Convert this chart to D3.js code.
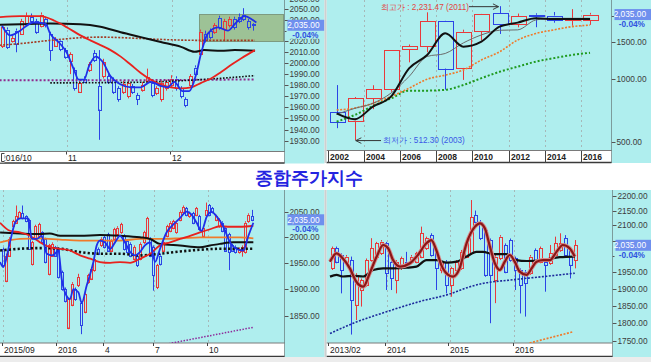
<!DOCTYPE html>
<html><head><meta charset="utf-8">
<script src="https://cdn.jsdelivr.net/npm/d3@7"></script>
<style>
body{margin:0;background:#fff;}
svg{display:block;}
text{font-family:"Liberation Sans",Arial,sans-serif;}
</style></head>
<body><svg id="c" width="651" height="362"></svg>
<script>
// ================= DATA =================
// Daily (2016/10 - 2016/12)
const dailyO = [2016,2031,2020,2030,2027,2036,2043,2039,2034,2041,2027,2016,2020,2012,2002,1994,1974,1986,1994,2009,1979,1988,1988,1985,1977,1974,1970,1979,1971,1976,1984,1982,1973,1967,1977,1980,1986,1977,1967,1980,1996,2008,2027,2030,2029,2042,2032,2035,2041,2043,2045,2039,2036];
const dailyH = [2036,2033,2025,2032,2041,2047,2046,2041,2047,2043,2029,2024,2021,2014,2010,1996,1984,1988,2001,2012,2012,2004,1990,1987,1979,1984,1984,1981,1973,1983,1995,1985,1979,1984,1985,1989,1988,1979,1969,1990,1998,2031,2030,2032,2037,2044,2041,2043,2043,2046,2051,2041,2037];
const dailyL = [2014,2013,2019,2010,2026,2035,2037,2027,2033,2033,2002,2015,2011,2004,1990,1975,1973,1982,1992,2001,1931,1986,1981,1972,1965,1972,1968,1972,1962,1974,1981,1969,1971,1965,1975,1978,1975,1968,1960,1978,1988,2006,2019,2022,2027,2031,2021,2033,2031,2037,2039,2031,2030];
const dailyC = [2033,2015,2023,2018,2039,2044,2039,2029,2045,2035,2012,2022,2013,2006,2008,1977,1982,1983,1999,2003,1958,2001,1983,1974,1967,1981,1982,1974,1967,1980,1987,1971,1977,1982,1983,1986,1977,1970,1962,1988,1990,2029,2021,2024,2035,2033,2039,2041,2033,2039,2041,2033,2035];
const dailyMA5 = [[0,2034.6],[1.7,2025.6],[2.7,2027],[3.75,2030],[6.5,2037.6],[9,2036.6],[10,2027],[11.7,2019.5],[13.5,2009],[14.9,1994],[15.9,1985],[17,1985],[18,1997],[19.4,2006],[20.8,2001.5],[22.5,1988],[24.6,1980.5],[26.7,1978],[28.75,1978],[30.8,1983],[33,1979],[34.3,1978],[35.7,1983],[37.4,1974.5],[38.8,1974.5],[40.2,1989.5],[41.25,2009],[42.6,2027],[44.7,2033],[46.8,2030],[48.2,2036],[50.3,2043.6],[51.7,2040.6],[52.7,2037.6]];
const dailyMA20 = [[-0.5,2042.6],[3.75,2043.6],[7.9,2043.6],[11,2039],[13.5,2033],[16.25,2025.6],[18.3,2021],[20.4,2016.6],[22.5,2012],[24.6,2006],[26.7,1998.5],[28.75,1991],[30.8,1985],[32.9,1980.5],[35,1978],[37.1,1977],[39.2,1978],[41.25,1982],[43.3,1986],[45.4,1992],[47.5,1998.5],[49.6,2004.5],[52.4,2012]];
const dailyMA60 = [[-0.5,2035.5],[3.75,2036],[10,2036.6],[16.25,2036],[20.4,2033.6],[24.6,2028.5],[28.75,2024],[32.9,2019.5],[37.1,2015],[39.9,2010.5],[41.9,2012],[45.4,2011.4],[48.2,2012],[52.4,2011.4]];
const dailyMA120 = [[-0.5,2016.5],[3.75,2018],[10,2021],[16.25,2023.4],[20.4,2024],[27.4,2023],[34.3,2021.6],[41.25,2021],[52.4,2021]];
const dailyMA240 = [[-0.5,1984.4],[20,1984.4],[41,1984.8],[52.4,1985.2]];
const dailyMA480 = [[10,1982],[27.4,1982.5],[41.25,1985],[52.4,1988.6]];
const dailyBoxStart = 40.8;
const dailyBoxRange = [2020.7, 2045.6];
const dailyYTicks = [2060,2050,2040,2030,2020,2010,2000,1990,1980,1970,1960,1950,1940,1930];
const dailyXLabels = ["2016/10","11","12"];
const dailyXLabelIdx = [-0.35,13.5,35.2];

// Yearly (2002 - 2016)
const yearCats = [2002,2003,2004,2005,2006,2007,2008,2009,2010,2011,2012,2013,2014,2015,2016];
const yearO = [693.7,635,811,895.9,1389,1438,1897,1132,1696,2063,1826,2031,2013,1926,1918];
const yearH = [937.6,822.2,936.1,1379.4,1464.7,2085.5,1901,1723.2,2053,2231.47,2057.3,2063.3,2093,2160,2073];
const yearL = [584,512.3,719.6,870.8,1203.9,1345.1,892.2,992.7,1532.7,1644.1,1769,1770.5,1861,1800,1817];
const yearC = [627.6,810.7,895.9,1379.4,1434.5,1897.1,1124.5,1682.8,2051,1825.7,1997.1,2011.3,1915.6,1961.3,2035];
const yearMA3 = [687,644,740,826,1127,1305,1656,1430,1511,1782,1862,1953,1938,1938,1938];
const yearMA5 = [680,726,767,858,1030,1284,1327,1490,1627,1712,1720,1917,1953,1953,1953];
const yearMA10 = [713,728,767,826,906,1000,1046,1107,1236,1352,1538,1652,1720,1782,1813];
const yearMA20 = [627,675,745,809,882,882,890,938,1012,1085,1148,1213,1261,1305,1337];
const yearYTicks = [500,1000,1500,2000];
const yearXLabels = ["2002","2004","2006","2008","2010","2012","2014","2016"];
const yearHighText = "최고가 : 2,231.47 (2011)";
const yearLowText = "최저가 : 512.30 (2003)";

// Weekly (2015/09 - 2016/12)
const weekO = [1977,1916,1964,2022,2029,2038,2048,2042,2035,1948,1997,2003,2010,1997,1929,1964,1981,1977,1932,1900,1829,1871,1900,1907,1874,1858,1913,1920,1936,1977,1984,2000,2006,1974,1997,2006,2010,2003,1993,1987,1958,1964,1958,1990,2000,1997,1981,1903,1964,1974,2003,2013,2019,2010,2035,2051,2058,2042,2048,2045,2042,2003,2045,2064,2058,2035,2022,2029,2019,2006,1984,1981,1971,1974,1971,2032,2042];
const weekH = [1980,1968,2000,2035,2064,2053,2064,2044,2037,1993,2025,2029,2012,1999,1987,1990,1983,1980,1935,1903,1884,1913,1903,1929,1877,1894,1929,1942,1961,1980,2000,2003,2009,1996,2019,2022,2029,2006,1996,1990,1984,1968,1990,2013,2041,2000,1984,1948,1968,1993,2025,2032,2035,2032,2054,2064,2061,2051,2051,2061,2045,2022,2070,2067,2061,2045,2038,2032,2022,2009,1987,1984,1980,1984,2032,2048,2055];
const weekL = [1942,1913,1962,2020,2027,2036,2036,2030,1975,1945,1995,2001,1988,1949,1926,1962,1962,1920,1897,1875,1826,1868,1878,1904,1817,1855,1910,1917,1933,1965,1981,1978,1971,1971,1994,2003,2007,1974,1968,1961,1955,1942,1955,1987,1997,1961,1897,1900,1945,1971,2000,2010,2016,2007,2032,2048,2042,2039,2026,2042,2013,2000,2042,2042,2048,2032,2019,2010,1971,1936,1971,1968,1968,1962,1968,2029,2032];
const weekC = [1945,1964,1997,2032,2042,2051,2038,2032,1977,1990,2022,2026,1990,1952,1984,1987,1964,1923,1900,1878,1881,1910,1881,1923,1833,1891,1926,1939,1958,1968,1997,1981,1974,1993,2016,2019,2026,1977,1971,1964,1981,1945,1987,2010,2038,1964,1926,1945,1948,1990,2022,2029,2032,2029,2051,2061,2045,2048,2029,2058,2016,2019,2055,2045,2051,2042,2035,2013,1974,1971,1974,1971,1977,1981,2029,2045,2035];
const weekMA5 = [[-0.8,1951.6],[0.2,1942],[2.2,1990],[3.8,2029],[5.3,2038],[7.8,2038],[8.9,1997],[10.4,1997],[11.9,2003],[13.4,1968],[15,1964.5],[16,1968],[17,1974],[18,1919.5],[19.5,1887],[20.5,1881],[21.6,1900],[23.1,1894],[24.1,1874],[25.6,1906],[27.7,1952],[28.7,1984],[29.7,1993.5],[31.2,1990],[32.8,1977],[34.3,1990],[35.8,2003],[37.3,1990],[38.9,1971],[40.4,1964.5],[41.9,1971],[43.4,1984],[45,1990],[46.5,1952],[48,1977],[50,2009.6],[52.1,2025.6],[54.1,2038.5],[56.2,2051.4],[57.7,2045],[59.2,2029],[60.7,2013],[62.3,2041.7],[63.8,2051],[65.3,2041.7],[67.3,2022],[69.4,1990],[71.4,1977],[73.4,1974],[75,2003],[76.5,2029]];
const weekMA20 = [[-0.8,2029],[2.2,2013],[5.3,2009.6],[8.3,2003],[11.4,1990],[14.4,1980.6],[17.5,1977.4],[20.5,1974],[23.6,1964.5],[26.7,1958],[29.7,1951.6],[32.8,1950],[35.8,1951.6],[38.9,1950],[41.9,1958],[45,1967.7],[48,1984],[51.1,1990],[54.1,1996.7],[57.2,2003],[60.2,2009.6],[63.3,2016],[66.3,2022],[69.4,2021],[72.4,2021],[76.5,2023]];
const weekMA60 = [[-0.8,2009.6],[5.3,2007.6],[11.4,2006.3],[14.4,2007.6],[17.5,2003],[23.6,2003],[29.7,2004.4],[35.8,2003],[41.9,2000],[45,1996.7],[48,1987],[54.1,1983.8],[60.2,1980.6],[63.3,1983.8],[66.3,1987],[70.4,1990],[76.5,1990]];
const weekMA120 = [[-0.8,1990],[5.3,1996.7],[11.4,1998],[17.5,1995.4],[23.6,1993.5],[29.7,1993.5],[35.8,1993.5],[41.9,1996.7],[48,1996.7],[54.1,1998],[60.2,1999.9],[66.3,1999.9],[72.4,1999.9],[76.5,1998]];
const weekMA240 = [[-0.8,1974],[5.3,1977.4],[11.4,1978.7],[17.5,1977.4],[23.6,1970.9],[29.7,1967.7],[35.8,1967.7],[41.9,1964.5],[48,1967.7],[54.1,1972],[60.2,1975.5],[66.3,1977.4],[76.5,1977.4]];
const weekMA480 = [[48,1797],[76.5,1829.4]];
const weekYTicks = [2050,2000,1950,1900,1850];
const weekXLabels = ["2015/09","2016","4","7","10"];
const weekXLabelIdx = [0.2,16.7,31,46.3,62.8];

// Monthly (2013/02 - 2016/12)
const monO = [1962,2025,2004,1983,1988,1852,1896,1911,1988,1999,2009,2041,1983,1926,1962,1983,1983,1983,1999,2025,2068,2014,1957,1983,1911,1957,1962,1999,2009,2135,2112,2085,2052,1926,1993,2036,2052,1993,1957,1952,1947,2020,1983,1983,1978,2004,2020,2057,2020,1988];
const monH = [2031,2031,2009,2004,1999,1947,1931,1993,2058,2046,2052,2046,1988,1988,1999,2014,2004,2014,2096,2063,2074,2020,1988,1988,1967,1988,2020,2046,2186,2150,2118,2090,2057,2004,2068,2041,2057,1999,1962,1957,2004,2025,2031,1988,2036,2063,2074,2068,2025,2052];
const monL = [1957,1978,1886,1978,1767,1808,1847,1906,1983,1994,2004,1896,1896,1886,1957,1967,1978,1978,1994,2020,1999,1896,1947,1886,1876,1952,1957,1994,2004,2107,2052,1936,1799,1857,1988,1947,1983,1896,1827,1818,1942,1983,1978,1891,1973,1999,2014,1999,1931,1962];
const monC = [2025,1983,1957,1999,1866,1942,1926,1988,2025,2041,2047,1947,1931,1983,1993,1973,1999,2009,2074,2057,2004,1962,1983,1911,1962,1983,2014,2041,2128,2112,2057,1942,1942,1999,2063,1952,1988,1957,1911,1916,1999,1988,2025,1973,2009,2041,2041,2004,1973,2035];
const monMA5 = [[-0.3,1983],[1,2009],[2.3,1993],[3.7,1962],[5,1921],[6.4,1906],[7.7,1947],[9.1,1999],[10.4,2036],[11.4,2025.5],[12.4,1988],[13.8,1967.5],[15.8,1978],[17.4,2004],[19.1,2041.5],[20.1,2052],[21.1,2020],[22.1,1973],[23.5,1942],[24.5,1936.6],[25.8,1962],[27.2,2041.5],[28.9,2096],[29.9,2107],[30.9,2090],[31.9,2031],[32.9,1978],[33.9,1957],[34.9,1983],[35.9,2004],[36.9,1983],[37.9,1952],[39.3,1942],[40.3,1962],[41.3,1983],[42.6,1988],[44,1988],[45.3,2014],[46.6,2036],[48,2025],[49,1999]];
const monMA12 = [[-0.3,1936.6],[1,1942],[2.3,1937],[4.4,1939],[6.4,1937],[8.4,1957],[10.4,1962],[12.4,1962],[15.1,1964],[17.1,1967.5],[19.1,1988],[21.1,1988],[23.2,1980],[25.2,1983],[27.2,1999],[29.2,2014],[30.5,2014],[32.6,2007],[35.2,2007],[37.2,1988],[39.3,1985],[42.6,1988],[46,1997],[49,1999]];
const monMA60 = [[-0.3,1770],[4.4,1799],[11.1,1832],[17.8,1862],[23.8,1884],[27.9,1906],[30.5,1916],[35.9,1926],[42.6,1936.6],[49,1947]];
const monMA120 = [[39.9,1743.6],[48.7,1775]];
const monYTicks = [2200,2150,2100,2050,2000,1950,1900,1850,1800,1750];
const monXLabels = ["2013/02","2014","2015","2016"];
const monXLabelIdx = [-0.4,11.1,23.8,36.8];

const lastValue = 2035;
const lastText = "2,035.00";
const changeText = "-0.04%";
const titleText = "종합주가지수";

// ================= DRAWING =================
const CYAN = "#afeeee", RED = "#e8393b", BLUE = "#2b44e6";
const svg = d3.select("#c");
const defs = svg.append("defs");
defs.append("marker").attr("id","arr").attr("viewBox","0 0 10 10").attr("refX",9).attr("refY",5)
  .attr("markerWidth",7).attr("markerHeight",7).attr("markerUnits","userSpaceOnUse").attr("orient","auto")
  .append("path").attr("d","M1,1 L9,5 L1,9").attr("fill","none").attr("stroke","#333").attr("stroke-width",1.3);

let clipN = 0;
function clip(x,y,w,h){
  const id = "cp"+(clipN++);
  defs.append("clipPath").attr("id",id).append("rect").attr("x",x).attr("y",y).attr("width",w).attr("height",h);
  return `url(#${id})`;
}

function panel(p){
  const g = svg.append("g");
  g.append("rect").attr("x",p.x0).attr("y",p.y0).attr("width",p.right-p.x0).attr("height",p.sb-p.y0).attr("fill",CYAN);
  g.append("rect").attr("x",p.x0).attr("y",p.y1).attr("width",p.x1-p.x0).attr("height",p.sb-p.y1).attr("fill","#fff");
  g.append("line").attr("x1",p.x0).attr("x2",p.x1).attr("y1",p.y1).attr("y2",p.y1).attr("stroke","#7a7a7a");
  g.append("line").attr("x1",p.x0).attr("x2",p.x1).attr("y1",p.sb-0.5).attr("y2",p.sb-0.5).attr("stroke","#3a3a3a").attr("stroke-width",1.5);

  const pl = g.append("g").attr("clip-path", clip(p.x0,p.y0,p.x1-p.x0,p.y1-p.y0));
  p.grid.forEach(x=>{
    pl.append("line").attr("x1",Math.round(x)+0.5).attr("x2",Math.round(x)+0.5).attr("y1",p.y0).attr("y2",p.y1)
      .attr("stroke","#a6b8b8").attr("stroke-dasharray","2,3");
  });
  if(p.under) p.under(pl);
  const n = p.O.length;
  for(let i=0;i<n;i++){
    const o=p.O[i], c=p.C[i], h=p.H[i], l=p.L[i];
    const col = c>=o ? RED : BLUE;
    const xc = Math.round(p.xpos(i))+0.5;
    const yt = p.y(Math.max(o,c)), yb = p.y(Math.min(o,c));
    pl.append("line").attr("x1",xc).attr("x2",xc).attr("y1",p.y(h)).attr("y2",yt).attr("stroke",col);
    pl.append("line").attr("x1",xc).attr("x2",xc).attr("y1",yb).attr("y2",p.y(l)).attr("stroke",col);
    const hw = p.cw/2;
    pl.append("rect").attr("x",Math.round(xc-hw)+0.5).attr("y",Math.round(yt)+0.5)
      .attr("width",Math.max(1,Math.round(p.cw)-1)).attr("height",Math.max(0.5,Math.round(yb)-Math.round(yt)))
      .attr("fill","none").attr("stroke",col).attr("stroke-width",1);
  }
  p.lines.forEach(L=>{
    pl.append("path").attr("d", d3.line().x(d=>p.xpos(d[0])).y(d=>p.y(d[1])).curve(d3.curveMonotoneX)(L.data))
      .attr("fill","none").attr("stroke",L.color).attr("stroke-width",L.w)
      .attr("stroke-dasharray",L.dash||null).attr("stroke-linejoin","round");
  });
  if(p.over) p.over(g);

  // axis column
  const ax = g.append("g").attr("clip-path", clip(p.x1,p.y0,p.right-p.x1,p.sb-p.y0));
  ax.append("line").attr("x1",p.x1).attr("x2",p.x1).attr("y1",p.y0).attr("y2",p.sb).attr("stroke","#4a4a4a");
  const by = p.y(lastValue);
  p.yTicks.forEach(v=>{
    const y = Math.round(p.y(v))+0.5;
    ax.append("line").attr("x1",p.x1).attr("x2",p.x1+4).attr("y1",y).attr("y2",y).attr("stroke","#555");
    if(y > by-4 && y < by+14) return; // label fully hidden behind the price badge
    ax.append("text").attr("x",p.x1+5).attr("y",y).attr("dy","0.35em").attr("font-size",8.3)
      .attr("fill","#3c3c3c").text(d3.format(".2f")(v));
  });
  ax.append("rect").attr("x",p.x1+2).attr("y",by+5.5).attr("width",p.right-p.x1-2).attr("height",8).attr("fill",CYAN);
  ax.append("text").attr("x",p.right-6).attr("y",by+9.5).attr("dy","0.35em").attr("text-anchor","end")
    .attr("font-size",8.3).attr("font-weight","bold").attr("fill","#2f52e0").text(changeText);
  ax.append("rect").attr("x",p.x1+3).attr("y",by-5.5).attr("width",p.right-p.x1-3).attr("height",11).attr("fill","#6f90ee");
  ax.append("text").attr("x",p.right-5).attr("y",by).attr("dy","0.35em").attr("text-anchor","end")
    .attr("font-size",8.3).attr("fill","#fff").text(lastText);

  // x labels
  const xg = g.append("g").attr("clip-path", clip(p.x0,p.y1,p.x1-p.x0,p.sb-p.y1));
  p.xLab.forEach((t,k)=>{
    const x = Math.round(p.xLabX[k])+0.5;
    if(p.sep) xg.append("line").attr("x1",x).attr("x2",x).attr("y1",p.y1).attr("y2",p.sb).attr("stroke","#444");
    else xg.append("line").attr("x1",x).attr("x2",x).attr("y1",p.y1).attr("y2",p.y1+3).attr("stroke","#444");
    xg.append("text").attr("x",x+1.5).attr("y",(p.y1+p.sb)/2+0.5).attr("dy","0.35em").attr("font-size",8.5)
      .attr("font-weight",p.sep?"bold":"normal").attr("fill","#222").text(t);
  });
  if(p.xover) p.xover(g);
}

// ---------- TL daily ----------
{
  const x = d3.scaleLinear().domain([0,52]).range([2,253]);
  const y = d3.scaleLog().domain([1920.7,2058.7]).range([151.5,0]);
  panel({x0:0,x1:284.5,right:324.5,y0:0,y1:151.5,sb:163.5,xpos:x,y:y,cw:4,
    O:dailyO,H:dailyH,L:dailyL,C:dailyC,
    grid:[x(13.5),x(35.2)],
    under:(pl)=>{
      pl.append("rect").attr("x",Math.round(x(dailyBoxStart))+0.5).attr("y",Math.round(y(dailyBoxRange[1]))+0.5)
        .attr("width",284-Math.round(x(dailyBoxStart))-1).attr("height",Math.round(y(dailyBoxRange[0])-y(dailyBoxRange[1])))
        .attr("fill","#9dc296").attr("stroke","#7d9b80");
    },
    lines:[
      {data:dailyMA240,color:"#8e2a8e",w:2,dash:"2,2"},
      {data:dailyMA480,color:"#111",w:1.6,dash:"1.6,1.6"},
      {data:dailyMA120,color:"#a33a22",w:1.6,dash:"2,1.5"},
      {data:dailyMA60,color:"#111",w:2},
      {data:dailyMA20,color:"#e8221e",w:1.8},
      {data:dailyMA5,color:"#1f2fe8",w:1.8}
    ],
    yTicks:dailyYTicks,
    xLab:dailyXLabels, xLabX:dailyXLabelIdx.map(i=>x(i)-1.5),
    xover:(g)=>{
      g.append("rect").attr("x",0).attr("y",152.5).attr("width",4.5).attr("height",10).attr("fill","#fff");
      g.append("path").attr("d","M4.5,153.5 H1.5 V161.5 H4.5").attr("fill","none").attr("stroke","#444");
    }
  });
}

// ---------- TR yearly ----------
{
  const xb = d3.scaleBand().domain(d3.range(yearCats.length)).range([327.6,599.1]);
  const xc = i => xb(Math.round(i)) + xb.bandwidth()/2 + (i-Math.round(i))*xb.step();
  const y = d3.scaleLog().domain([456.9,2388]).range([150.5,0]);
  const labIdx = yearXLabels.map(t=>yearCats.indexOf(+t));
  panel({x0:326.5,x1:611.5,right:651,y0:0,y1:150.5,sb:163,xpos:xc,y:y,cw:16,
    O:yearO,H:yearH,L:yearL,C:yearC,
    grid:labIdx.slice(1).map(i=>xb(i)),
    lines:[
      {data:yearMA20.map((v,i)=>[i,v]),color:"#1f9a1f",w:2,dash:"2,2"},
      {data:yearMA10.map((v,i)=>[i,v]),color:"#f07a2a",w:1.6,dash:"2,1.5"},
      {data:yearMA5.map((v,i)=>[i,v]),color:"#6a6a6a",w:1},
      {data:yearMA3.map((v,i)=>[i,v]),color:"#111",w:2}
    ],
    yTicks:yearYTicks,
    xLab:yearXLabels, xLabX:labIdx.map(i=>xb(i)), sep:true,
    over:(g)=>{
      const hiI = yearH.indexOf(d3.max(yearH)), loI = yearL.indexOf(d3.min(yearL));
      const hy = y(d3.max(yearH)), ly = y(d3.min(yearL));
      g.append("text").attr("x",381).attr("y",hy+0.5).attr("dy","0.35em").attr("font-size",8.2).attr("fill","#e2453f").text(yearHighText);
      g.append("line").attr("x1",469).attr("x2",xc(hiI)-1).attr("y1",hy+0.5).attr("y2",hy+0.5).attr("stroke","#333").attr("marker-end","url(#arr)");
      g.append("text").attr("x",383).attr("y",ly).attr("dy","0.35em").attr("font-size",8.2).attr("fill","#3a58e6").text(yearLowText);
      g.append("line").attr("x1",381).attr("x2",xc(loI)+1).attr("y1",ly+0.5).attr("y2",ly+0.5).attr("stroke","#333").attr("marker-end","url(#arr)");
    }
  });
}

// ---------- BL weekly ----------
{
  const x = d3.scaleLinear().domain([0,76]).range([2.7,251.7]);
  const y = d3.scaleLog().domain([1801.2,2095.9]).range([343,190]);
  panel({x0:0,x1:284.5,right:324.5,y0:190,y1:343,sb:357,xpos:x,y:y,cw:3,
    O:weekO,H:weekH,L:weekL,C:weekC,
    grid:weekXLabelIdx.map(i=>x(i)),
    lines:[
      {data:weekMA480,color:"#8e2a9a",w:1.5,dash:"1.5,1.5"},
      {data:weekMA240,color:"#111",w:2.6,dash:"2.2,2.2"},
      {data:weekMA120,color:"#f07a2a",w:1.8},
      {data:weekMA60,color:"#111",w:2},
      {data:weekMA20,color:"#e8221e",w:1.8},
      {data:weekMA5,color:"#1f2fe8",w:1.8}
    ],
    yTicks:weekYTicks,
    xLab:weekXLabels, xLabX:weekXLabelIdx.map(i=>x(i)-1.5)
  });
}

// ---------- BR monthly ----------
{
  const x = d3.scaleLinear().domain([0,49]).range([5,248.3]);
  const y = d3.scaleLog().domain([1743.6,2221]).range([343,190]);
  panel({x0:326.5,x1:612.5,right:651,y0:190,y1:343,sb:357,xpos:(i)=>326.5+x(i),y:y,cw:4,
    O:monO,H:monH,L:monL,C:monC,
    grid:monXLabelIdx.slice(1).map(i=>326.5+x(i)),
    lines:[
      {data:monMA60,color:"#1c2a9c",w:1.6,dash:"2,1.5"},
      {data:monMA120,color:"#f07a2a",w:1.6,dash:"2,1.5"},
      {data:monMA12,color:"#111",w:2.2},
      {data:monMA5,color:"#d88a8a",w:4},
      {data:monMA5,color:"#8a1616",w:2.2}
    ],
    yTicks:monYTicks,
    xLab:monXLabels, xLabX:monXLabelIdx.map(i=>326.5+x(i)-1.5)
  });
}

// separators, title band, bottom band
svg.append("rect").attr("x",324.5).attr("y",0).attr("width",2).attr("height",163).attr("fill","#cfcfcf");
svg.append("rect").attr("x",324.5).attr("y",190).attr("width",2).attr("height",167).attr("fill","#cfcfcf");
svg.append("rect").attr("x",0).attr("y",357).attr("width",651).attr("height",5).attr("fill","#ececec");
svg.append("text").attr("x",309).attr("y",178).attr("dy","0.36em").attr("text-anchor","middle")
  .attr("font-family","'Noto Sans CJK KR','Noto Sans',sans-serif").attr("font-weight","bold")
  .attr("font-size",18).attr("fill","#2424e0").text(titleText);
</script>
</body></html>
